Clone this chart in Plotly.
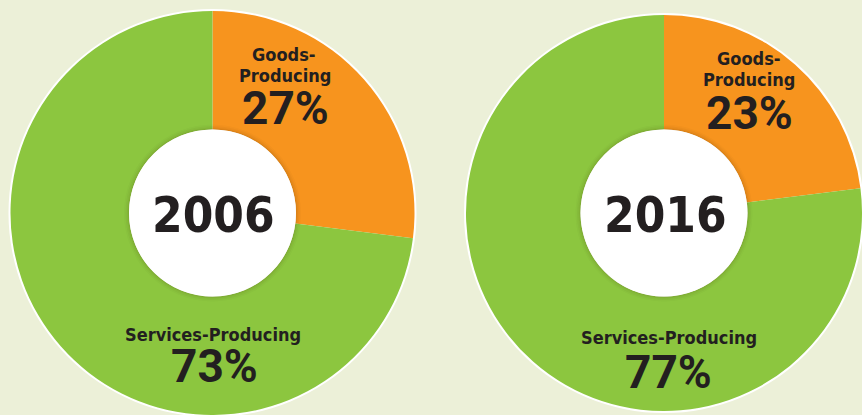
import plotly.graph_objects as go

# ---- data ----
years = ["2006", "2016"]
sectors = ["Goods-Producing", "Services-Producing"]
goods_share = [27, 23]
services_share = [73, 77]
colors = ["#f7941e", "#8cc63f"]

W, H = 862, 415
BG = "#ecf0d8"
TXT = "#231f20"
COND = "DejaVu Sans Condensed, Liberation Sans Narrow, Roboto, sans-serif"

# pie geometry in pixels (centre x, centre y from top, radius)
pies = [
    dict(cx=212.5, cy=213.0, r=202.0),
    dict(cx=664.0, cy=213.0, r=198.0),
]
HOLE_R = 83.5

def px(x):
    return x / W

def py(y):
    return 1 - y / H

fig = go.Figure()
shapes = []
annotations = []

# label placements (pixel centres) for each pie
label_pos = [
    dict(g1=(284, 54), g2=(285, 75), gp=(285, 108), s1=(213, 334), sp=(214, 366)),
    dict(g1=(749, 59), g2=(749, 80), gp=(749, 113), s1=(669, 337), sp=(668, 372)),
]

for i, yr in enumerate(years):
    p = pies[i]
    cx, cy, r = p["cx"], p["cy"], p["r"]
    fig.add_trace(go.Pie(
        labels=sectors,
        values=[goods_share[i], services_share[i]],
        marker=dict(colors=colors, line=dict(width=0)),
        hole=HOLE_R / r,
        sort=False,
        direction="clockwise",
        rotation=0,
        textinfo="none",
        hoverinfo="label+percent",
        showlegend=False,
        domain=dict(x=[px(cx - r), px(cx + r)], y=[py(cy + r), py(cy - r)]),
    ))
    ro = r + 2
    shapes.append(dict(type="circle", xref="paper", yref="paper", layer="below",
                       x0=px(cx - ro), x1=px(cx + ro), y0=py(cy + ro), y1=py(cy - ro),
                       fillcolor="white", line=dict(width=0)))
    for dr, a in [(5, 0.025), (3.5, 0.035), (2, 0.045), (1, 0.05)]:
        rr = HOLE_R + dr
        shapes.append(dict(type="circle", xref="paper", yref="paper", layer="above",
                           x0=px(cx - rr), x1=px(cx + rr), y0=py(cy + rr), y1=py(cy - rr),
                           fillcolor=f"rgba(60,40,0,{a})", line=dict(width=0)))
    shapes.append(dict(type="circle", xref="paper", yref="paper", layer="above",
                       x0=px(cx - HOLE_R), x1=px(cx + HOLE_R), y0=py(cy + HOLE_R), y1=py(cy - HOLE_R),
                       fillcolor="white", line=dict(width=0)))

    lp = label_pos[i]
    narrow = dict(family=COND, size=18, color=TXT, weight="bold")
    pctfont = dict(family="Roboto", size=46, color=TXT, weight="bold")
    g_first, g_second = sectors[0].split("-", 1)
    annotations += [
        dict(text=g_first + "-", x=px(lp["g1"][0]), y=py(lp["g1"][1]), font=narrow),
        dict(text=g_second, x=px(lp["g2"][0]), y=py(lp["g2"][1]), font=narrow),
        dict(text=f"{goods_share[i]}%", x=px(lp["gp"][0]), y=py(lp["gp"][1]), font=pctfont),
        dict(text=sectors[1], x=px(lp["s1"][0]), y=py(lp["s1"][1]), font=narrow),
        dict(text=f"{services_share[i]}%", x=px(lp["sp"][0]), y=py(lp["sp"][1]), font=pctfont),
        dict(text=yr, x=px(cx + 1), y=py(cy + 2),
             font=dict(family=COND, size=49, color=TXT, weight="bold")),
    ]

for a in annotations:
    a.update(xref="paper", yref="paper", xanchor="center", yanchor="middle", showarrow=False)

fig.update_layout(
    width=W, height=H,
    margin=dict(l=0, r=0, t=0, b=0),
    paper_bgcolor=BG, plot_bgcolor=BG,
    shapes=shapes, annotations=annotations,
    showlegend=False,
)

fig.write_html("out.html", config={"displayModeBar": False},
               post_script="document.body.style.margin='0';")
